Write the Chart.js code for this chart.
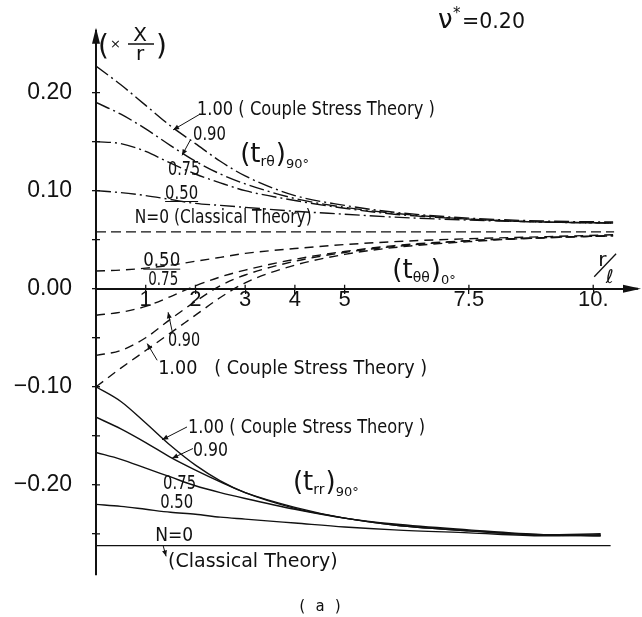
<!DOCTYPE html>
<html>
<head>
<meta charset="utf-8">
<script src="https://cdn.jsdelivr.net/npm/chart.js@4.4.1/dist/chart.umd.min.js"></script>
<style>
html, body { margin: 0; padding: 0; background: #fff; }
#wrap { width: 642px; height: 617px; position: relative; }
</style>
</head>
<body>
<div id="wrap"><canvas id="stressChart" width="642" height="617"></canvas></div>
<script>
// r / l positions where the curves were read
const rPts = [0, 0.5, 1, 1.5, 2, 2.5, 3, 4, 5, 6, 7.5, 9, 10.4];
const rPtsRR = [0, 0.5, 1, 1.5, 2, 2.5, 3, 4, 5, 6, 7.5, 9, 10.15];
const rClassic = [0, 10.42];
const rClassicRR = [0, 10.35];

// (t_r theta) at 90 deg, N = 1.00, 0.90, 0.75, 0.50
const trt100 = [0.227, 0.208, 0.187, 0.166, 0.148, 0.130, 0.115, 0.095, 0.085, 0.078, 0.072, 0.069, 0.068];
const trt090 = [0.190, 0.178, 0.163, 0.146, 0.130, 0.117, 0.107, 0.092, 0.083, 0.077, 0.071, 0.068, 0.067];
const trt075 = [0.150, 0.148, 0.140, 0.128, 0.117, 0.108, 0.100, 0.090, 0.082, 0.076, 0.071, 0.068, 0.067];
const trt050 = [0.100, 0.098, 0.095, 0.091, 0.087, 0.085, 0.083, 0.079, 0.076, 0.073, 0.070, 0.068, 0.067];
// N = 0 classical theory (shared by t_r theta and t_theta theta)
const classicTop = [0.058, 0.058];

// (t_theta theta) at 0 deg
const ttt050 = [0.018, 0.019, 0.021, 0.024, 0.028, 0.032, 0.036, 0.041, 0.045, 0.048, 0.051, 0.053, 0.055];
const ttt075 = [-0.027, -0.024, -0.018, -0.008, 0.003, 0.012, 0.019, 0.030, 0.038, 0.044, 0.049, 0.052, 0.054];
const ttt090 = [-0.068, -0.063, -0.050, -0.031, -0.013, 0.003, 0.014, 0.028, 0.037, 0.043, 0.049, 0.052, 0.054];
const ttt100 = [-0.100, -0.081, -0.063, -0.045, -0.027, -0.009, 0.006, 0.024, 0.035, 0.042, 0.048, 0.052, 0.054];

// (t_rr) at 90 deg
const trr100 = [-0.100, -0.115, -0.137, -0.160, -0.180, -0.196, -0.208, -0.224, -0.234, -0.241, -0.247, -0.251, -0.250];
const trr090 = [-0.131, -0.143, -0.157, -0.172, -0.185, -0.197, -0.208, -0.223, -0.234, -0.241, -0.247, -0.251, -0.252];
const trr075 = [-0.167, -0.174, -0.183, -0.192, -0.201, -0.208, -0.214, -0.225, -0.234, -0.240, -0.246, -0.251, -0.252];
const trr050 = [-0.220, -0.222, -0.225, -0.228, -0.230, -0.233, -0.235, -0.239, -0.243, -0.246, -0.249, -0.252, -0.251];
const classicRR = [-0.262, -0.262];

// axis ticks
const xTicks = [1, 2, 3, 4, 5, 7.5, 10];
const xTickLabels = ['1', '2', '3', '4', '5', '7.5', '10.'];
const yTicks = [0.20, 0.15, 0.10, 0.05, 0, -0.05, -0.10, -0.15, -0.20, -0.25];
const yTickLabels = ['0.20', '', '0.10', '', '0.00', '', '\u22120.10', '', '\u22120.20', ''];

const pairs = (xs, ys) => ys.map((v, i) => ({ x: xs[i], y: v }));

const chainDash = [15, 4, 2, 4];
const longDash = [10, 5];
const shortDash = [9, 6];

function curve(xs, ys, dash) {
    return {
        data: pairs(xs, ys),
        borderColor: '#111',
        borderWidth: 1.4,
        borderDash: dash,
        pointRadius: 0,
        fill: false,
        cubicInterpolationMode: 'monotone'
    };
}

const datasets = [
    curve(rPts, trt100, chainDash),
    curve(rPts, trt090, chainDash),
    curve(rPts, trt075, chainDash),
    curve(rPts, trt050, chainDash),
    curve(rClassic, classicTop, longDash),
    curve(rPts, ttt050, shortDash),
    curve(rPts, ttt075, shortDash),
    curve(rPts, ttt090, shortDash),
    curve(rPts, ttt100, shortDash),
    curve(rPtsRR, trr100, []),
    curve(rPtsRR, trr090, []),
    curve(rPtsRR, trr075, []),
    curve(rPtsRR, trr050, []),
    curve(rClassicRR, classicRR, [])
];

// handwritten notes, placed in data units
const notes = [
    { t: '1.00 ( Couple Stress Theory )', x: 2.03, y: 0.177, w: 238 },
    { t: '0.90', x: 1.95, y: 0.152, w: 33 },
    { t: '0.75', x: 1.45, y: 0.116, w: 32 },
    { t: '0.50', x: 1.39, y: 0.092, w: 33, u: true },
    { t: 'N=0 (Classical Theory)', x: 0.78, y: 0.067, w: 177 },
    { t: '0.50', x: 0.95, y: 0.023, w: 37, u: true },
    { t: '0.75', x: 1.05, y: 0.004, w: 30 },
    { t: '0.90', x: 1.45, y: -0.058, w: 32 },
    { t: '1.00   ( Couple Stress Theory )', x: 1.25, y: -0.087, w: 269 },
    { t: '1.00 ( Couple Stress Theory )', x: 1.85, y: -0.147, w: 237 },
    { t: '0.90', x: 1.95, y: -0.171, w: 35 },
    { t: '0.75', x: 1.35, y: -0.204, w: 33 },
    { t: '0.50', x: 1.29, y: -0.224, w: 33 },
    { t: 'N=0', x: 1.19, y: -0.257, w: 38 },
    { t: '(Classical Theory)', x: 1.45, y: -0.284, w: 257 }
];

// leader lines from labels to curves [x1, y1, x2, y2]
const leaders = [
    [2.09, 0.178, 1.55, 0.162],
    [1.89, 0.151, 1.73, 0.136],
    [1.53, -0.043, 1.45, -0.024],
    [1.23, -0.073, 1.03, -0.056],
    [1.83, -0.141, 1.33, -0.154],
    [1.95, -0.163, 1.53, -0.173],
    [1.35, -0.262, 1.41, -0.273]
];

const HAND = '"DejaVu Sans", sans-serif';

function text(ctx, s, x, y, size, maxW, align) {
    ctx.font = size + 'px ' + HAND;
    ctx.textAlign = align || 'left';
    ctx.textBaseline = 'alphabetic';
    if (maxW) ctx.fillText(s, x, y, maxW); else ctx.fillText(s, x, y);
}

// "(t_ab)_deg" style label
function stressLabel(ctx, x, y, sub1, sub2) {
    ctx.font = '26px ' + HAND;
    ctx.textAlign = 'left';
    ctx.fillText('(t', x, y);
    let cx = x + ctx.measureText('(t').width;
    ctx.font = '14px ' + HAND;
    ctx.fillText(sub1, cx, y + 4);
    cx += ctx.measureText(sub1).width + 1;
    ctx.font = '26px ' + HAND;
    ctx.fillText(')', cx, y);
    cx += ctx.measureText(')').width;
    ctx.font = '13px ' + HAND;
    ctx.fillText(sub2, cx, y + 6);
}

function arrowHead(ctx, x1, y1, x2, y2, len, half) {
    const a = Math.atan2(y2 - y1, x2 - x1);
    ctx.beginPath();
    ctx.moveTo(x2, y2);
    ctx.lineTo(x2 - len * Math.cos(a) + half * Math.sin(a), y2 - len * Math.sin(a) - half * Math.cos(a));
    ctx.lineTo(x2 - len * Math.cos(a) - half * Math.sin(a), y2 - len * Math.sin(a) + half * Math.cos(a));
    ctx.closePath();
    ctx.fill();
}

const decorations = {
    id: 'decorations',
    afterDraw(chart) {
        const ctx = chart.ctx;
        const xs = chart.scales.x, ys = chart.scales.y;
        const area = chart.chartArea;
        const px = v => xs.getPixelForValue(v);
        const py = v => ys.getPixelForValue(v);
        ctx.save();
        ctx.fillStyle = '#111';
        ctx.strokeStyle = '#111';

        // axis arrows
        const ax = px(0), ay = py(0);
        ctx.lineWidth = 2;
        ctx.beginPath();
        ctx.moveTo(ax, area.top); ctx.lineTo(ax, area.top - 4);
        ctx.moveTo(area.right, ay); ctx.lineTo(area.right + 6, ay);
        ctx.stroke();
        arrowHead(ctx, ax, area.top + 10, ax, area.top - 6, 16, 4);
        arrowHead(ctx, area.right - 10, ay, area.right + 9, ay, 18, 4);

        // inner halves of tick marks
        ctx.lineWidth = 1.3;
        ctx.beginPath();
        ys.ticks.forEach(t => { const y = py(t.value); ctx.moveTo(ax, y); ctx.lineTo(ax + 4, y); });
        xs.ticks.forEach(t => { const x = px(t.value); ctx.moveTo(x, ay); ctx.lineTo(x, ay - 4); });
        ctx.stroke();

        // notes
        notes.forEach(n => {
            text(ctx, n.t, px(n.x), py(n.y), 19, n.w);
            if (n.u) {
                ctx.lineWidth = 1;
                ctx.beginPath();
                ctx.moveTo(px(n.x), py(n.y) + 3);
                ctx.lineTo(px(n.x) + n.w, py(n.y) + 3);
                ctx.stroke();
            }
        });

        // leader lines
        ctx.lineWidth = 1;
        leaders.forEach(l => {
            ctx.beginPath();
            ctx.moveTo(px(l[0]), py(l[1]));
            ctx.lineTo(px(l[2]), py(l[3]));
            ctx.stroke();
            arrowHead(ctx, px(l[0]), py(l[1]), px(l[2]), py(l[3]), 6, 2.5);
        });

        // stress component labels
        stressLabel(ctx, px(2.9), py(0.129), 'r\u03b8', '90\u00b0');
        stressLabel(ctx, px(5.96), py(0.011), '\u03b8\u03b8', '0\u00b0');
        stressLabel(ctx, px(3.96), py(-0.205), 'rr', '90\u00b0');

        // ( x X / r ) unit note on the y axis
        ctx.font = '28px ' + HAND;
        ctx.textAlign = 'left';
        ctx.fillText('(', ax + 2, 55);
        ctx.fillText(')', ax + 60, 55);
        ctx.font = '13px ' + HAND;
        ctx.fillText('\u00d7', ax + 14, 48);
        ctx.font = '20px ' + HAND;
        ctx.textAlign = 'center';
        ctx.fillText('X', ax + 44, 41);
        ctx.fillText('r', ax + 44, 60);
        ctx.lineWidth = 1.5;
        ctx.beginPath();
        ctx.moveTo(ax + 32, 44); ctx.lineTo(ax + 58, 44);
        ctx.stroke();

        // nu* = 0.20
        ctx.textAlign = 'left';
        ctx.font = '26px ' + HAND;
        ctx.fillText('\u03bd', 438, 28);
        ctx.font = '15px ' + HAND;
        ctx.fillText('*', 453, 18);
        text(ctx, '=0.20', 462, 28, 22, 63);

        // r / l on the x axis
        text(ctx, 'r', px(10.1), ay - 23, 20);
        ctx.lineWidth = 1.3;
        ctx.beginPath();
        ctx.moveTo(px(10.02), ay - 12); ctx.lineTo(px(10.46), ay - 35);
        ctx.stroke();
        text(ctx, '\u2113', px(10.25), ay - 6, 19);

        // figure tag
        ctx.font = '15px "DejaVu Sans Mono", monospace';
        ctx.textAlign = 'center';
        ctx.fillText('( a )', 320, 611);
        ctx.restore();
    }
};

const ctx = document.getElementById('stressChart').getContext('2d');
new Chart(ctx, {
    type: 'line',
    data: { datasets: datasets },
    options: {
        responsive: false,
        animation: false,
        events: [],
        layout: { padding: { top: 20, right: 10, bottom: 42, left: 0 } },
        plugins: { legend: { display: false }, tooltip: { enabled: false } },
        scales: {
            x: {
                type: 'linear',
                position: { y: 0 },
                min: 0,
                max: 10.78,
                afterBuildTicks: axis => { axis.ticks = xTicks.map(v => ({ value: v })); },
                ticks: {
                    autoSkip: false,
                    maxRotation: 0,
                    padding: -6,
                    color: '#111',
                    font: { family: '"Liberation Sans", Arial, sans-serif', size: 22 },
                    callback: (v, i) => xTickLabels[i]
                },
                grid: { drawOnChartArea: false, drawTicks: true, tickLength: 4, color: '#111', lineWidth: 1.3 },
                border: { display: true, color: '#111', width: 2 }
            },
            y: {
                type: 'linear',
                position: 'left',
                min: -0.292,
                max: 0.26,
                afterFit: axis => { axis.width = 96; },
                afterBuildTicks: axis => { axis.ticks = yTicks.map(v => ({ value: v })); },
                ticks: {
                    autoSkip: false,
                    padding: 20,
                    color: '#111',
                    font: { family: '"Liberation Sans", Arial, sans-serif', size: 23 },
                    callback: (v, i) => yTickLabels[i]
                },
                grid: { drawOnChartArea: false, drawTicks: true, tickLength: 4, color: '#111', lineWidth: 1.3 },
                border: { display: true, color: '#111', width: 2 }
            }
        }
    },
    plugins: [decorations]
});
</script>
</body>
</html>
